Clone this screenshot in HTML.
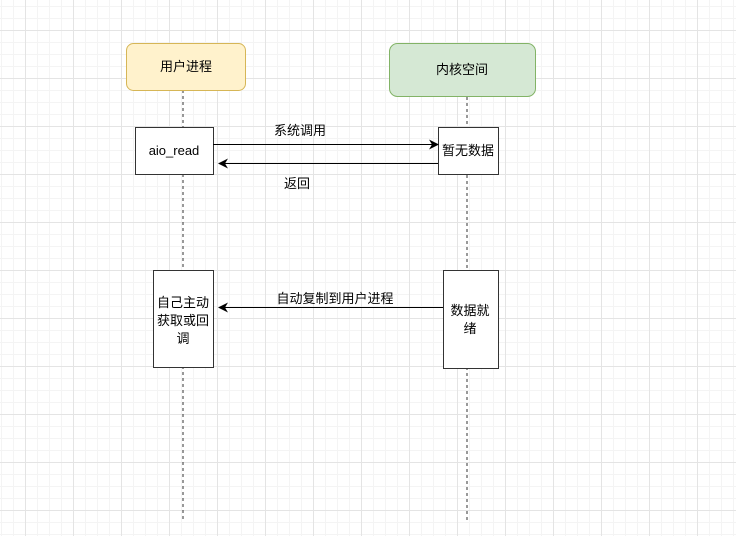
<!DOCTYPE html>
<html><head><meta charset="utf-8"><style>
body{margin:0;width:736px;height:536px;overflow:hidden;background:#fff;
background-image:linear-gradient(#e4e4e4 1px,transparent 1px),linear-gradient(90deg,#e4e4e4 1px,transparent 1px),linear-gradient(#f4f4f4 1px,transparent 1px),linear-gradient(90deg,#f4f4f4 1px,transparent 1px);
background-size:48px 48px,48px 48px,12px 12px,12px 12px;background-position:0 30px,25px 0,0 6px,1px 0;}
svg{position:absolute;left:0;top:0}
text{font-family:"Liberation Sans","Noto Sans CJK SC",sans-serif;font-size:13px;fill:#000}
</style></head><body>
<svg width="736" height="536">
<defs><marker id="a" viewBox="0 0 10 10" refX="9" refY="5" markerWidth="10" markerHeight="10" orient="auto" markerUnits="userSpaceOnUse"><path d="M0,0 L10,5 L0,10 L3,5 Z" fill="#000"/></marker></defs>
<g stroke="#333" stroke-dasharray="3,3" stroke-width="1">
<line x1="183" y1="90" x2="183" y2="522"/><line x1="467" y1="97" x2="467" y2="522"/></g>
<rect x="126.5" y="43.5" width="119" height="47" rx="7" fill="#fff2cc" stroke="#d6b656"/>
<rect x="389.5" y="43.5" width="146" height="53" rx="8" fill="#d5e8d4" stroke="#82b366"/>
<text x="186" y="71" text-anchor="middle">用户进程</text>
<text x="462" y="74" text-anchor="middle">内核空间</text>
<rect x="135.5" y="127.5" width="78" height="47" fill="#fff" stroke="#333"/>
<rect x="438.5" y="127.5" width="60" height="47" fill="#fff" stroke="#333"/>
<text x="174" y="155" text-anchor="middle">aio_read</text>
<text x="468" y="155" text-anchor="middle">暂无数据</text>
<line x1="213" y1="144.5" x2="438" y2="144.5" stroke="#000" marker-end="url(#a)"/>
<line x1="438" y1="163.5" x2="219" y2="163.5" stroke="#000" marker-end="url(#a)"/>
<text x="300" y="135" text-anchor="middle">系统调用</text>
<text x="297" y="188" text-anchor="middle">返回</text>
<rect x="153.5" y="270.5" width="60" height="97" fill="#fff" stroke="#333"/>
<rect x="443.5" y="270.5" width="55" height="98" fill="#fff" stroke="#333"/>
<text x="183" y="307" text-anchor="middle">自己主动</text>
<text x="183" y="325" text-anchor="middle">获取或回</text>
<text x="183" y="343" text-anchor="middle">调</text>
<text x="470" y="315" text-anchor="middle">数据就</text>
<text x="470" y="333" text-anchor="middle">绪</text>
<line x1="443" y1="307.5" x2="219" y2="307.5" stroke="#000" marker-end="url(#a)"/>
<text x="335" y="303" text-anchor="middle">自动复制到用户进程</text>
</svg></body></html>
